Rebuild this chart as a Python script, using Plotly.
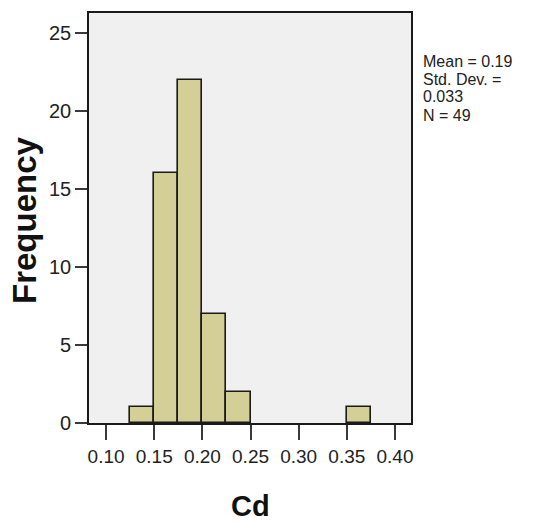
import plotly.graph_objects as go

# Histogram of Cd (bin width 0.025)
bin_starts = [0.125, 0.150, 0.175, 0.200, 0.225, 0.350]
counts = [1, 16, 22, 7, 2, 1]
bin_width = 0.025
x_ticks = [0.10, 0.15, 0.20, 0.25, 0.30, 0.35, 0.40]
x_tick_labels = ["0.10", "0.15", "0.20", "0.25", "0.30", "0.35", "0.40"]
y_ticks = [0, 5, 10, 15, 20, 25]
stats_lines = ["Mean = 0.19", "Std. Dev. =", "0.033", "N = 49"]

centers = [s + bin_width / 2 for s in bin_starts]

W, H = 543, 523
L, R, T, B = 89, 132, 13, 100

fig = go.Figure()
fig.add_trace(go.Bar(
    x=centers, y=counts, width=[bin_width] * len(counts),
    marker=dict(color="#D3CF97", line=dict(color="#1a1a1a", width=1.6)),
    hoverinfo="skip",
))

fig.update_layout(
    width=W, height=H,
    margin=dict(l=L, r=R, t=T, b=B, pad=0),
    paper_bgcolor="white",
    plot_bgcolor="#F0F0F0",
    showlegend=False,
    bargap=0,
    font=dict(family="Liberation Sans, Arial, sans-serif", color="#222222"),
)
fig.update_xaxes(
    range=[0.0823, 0.4166],
    tickvals=x_ticks, ticktext=x_tick_labels,
    ticks="outside", ticklen=15, tickwidth=2, tickcolor="#3a3a3a",
    tickfont=dict(size=19, color="#222222"),
    showgrid=False, zeroline=False,
    showline=True, linecolor="#1a1a1a", linewidth=1.6, mirror=True,
)
fig.update_yaxes(
    range=[0, 26.28],
    tickvals=y_ticks,
    ticks="outside", ticklen=12, tickwidth=2, tickcolor="#3a3a3a",
    tickfont=dict(size=20, color="#222222"),
    showgrid=False, zeroline=False,
    showline=True, linecolor="#1a1a1a", linewidth=1.6, mirror=True,
)

ph = H - T - B
pw = W - L - R

def py(pix):
    return (H - B - pix) / ph

def px(pix):
    return (pix - L) / pw

# axis titles
fig.add_annotation(text="<b>Frequency</b>", xref="paper", yref="paper",
                   x=px(24), y=py(220), showarrow=False, textangle=-90,
                   font=dict(size=33, color="#111111"),
                   xanchor="center", yanchor="middle")
fig.add_annotation(text="<b>Cd</b>", xref="paper", yref="paper",
                   x=px(250), y=py(506), showarrow=False,
                   font=dict(size=29, color="#111111"),
                   xanchor="center", yanchor="middle")

# stats box lines
line_y = [61, 79, 97, 115]
for txt, yy in zip(stats_lines, line_y):
    fig.add_annotation(text=txt, xref="paper", yref="paper",
                       x=px(421), y=py(yy), showarrow=False,
                       font=dict(size=16, color="#222222"),
                       xanchor="left", yanchor="middle")

fig.write_html("out.html")
